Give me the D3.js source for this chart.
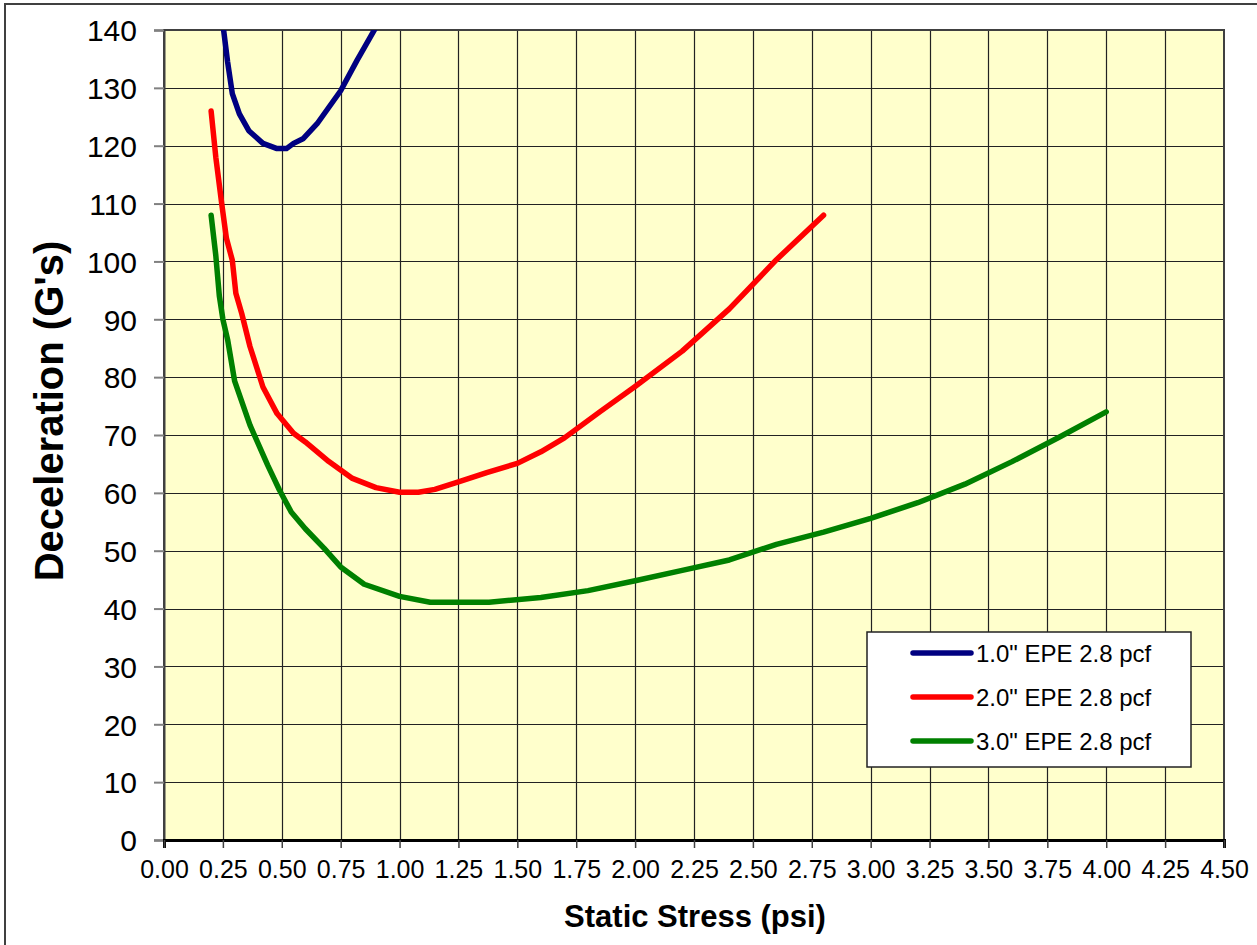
<!DOCTYPE html>
<html>
<head>
<meta charset="utf-8">
<script src="https://cdn.jsdelivr.net/npm/d3@7/dist/d3.min.js"></script>
<style>
  html, body { margin: 0; padding: 0; background: #ffffff; }
  svg { display: block; font-family: "Liberation Sans", Arial, sans-serif; }
</style>
</head>
<body>
<svg id="chart" width="1257" height="945"></svg>
<script>
// ---- Data ----
const seriesNames = ['1.0" EPE 2.8 pcf', '2.0" EPE 2.8 pcf', '3.0" EPE 2.8 pcf'];
const seriesColors = ["#000080", "#FF0000", "#008000"];

const epe1X = [0.25, 0.27, 0.29, 0.32, 0.36, 0.42, 0.48, 0.52, 0.55, 0.59, 0.65, 0.75, 0.82, 0.90];
const epe1Y = [141, 134.5, 129, 125.5, 122.6, 120.4, 119.5, 119.5, 120.4, 121.2, 123.8, 129.5, 134.8, 140.5];

const epe2X = [0.20, 0.22, 0.245, 0.265, 0.29, 0.305, 0.33, 0.365, 0.42, 0.48, 0.55, 0.60, 0.70, 0.80, 0.90, 1.00, 1.08, 1.15, 1.25, 1.37, 1.50, 1.60, 1.70, 1.85, 2.00, 2.20, 2.40, 2.60, 2.80];
const epe2Y = [126, 118, 110, 104, 100.2, 94.5, 91, 85.3, 78.3, 73.7, 70.3, 68.8, 65.4, 62.5, 60.9, 60.1, 60.1, 60.6, 61.9, 63.5, 65.1, 67.1, 69.5, 74, 78.4, 84.5, 91.8, 100.3, 108];

const epe3X = [0.20, 0.22, 0.235, 0.25, 0.27, 0.30, 0.365, 0.44, 0.49, 0.54, 0.60, 0.68, 0.75, 0.85, 1.00, 1.13, 1.38, 1.60, 1.80, 2.00, 2.20, 2.40, 2.60, 2.80, 3.00, 3.20, 3.40, 3.60, 3.80, 4.00];
const epe3Y = [108, 101, 94, 90, 86.5, 79.3, 71.7, 64.8, 60.5, 56.7, 53.8, 50.4, 47.2, 44.2, 42.1, 41.1, 41.1, 41.9, 43.1, 44.8, 46.6, 48.4, 51.1, 53.2, 55.6, 58.3, 61.5, 65.4, 69.6, 74];

const xTicks = [0, 0.25, 0.5, 0.75, 1, 1.25, 1.5, 1.75, 2, 2.25, 2.5, 2.75, 3, 3.25, 3.5, 3.75, 4, 4.25, 4.5];
const yTicks = [0, 10, 20, 30, 40, 50, 60, 70, 80, 90, 100, 110, 120, 130, 140];

const xTitle = "Static Stress (psi)";
const yTitle = "Deceleration (G's)";

// ---- Layout ----
const svg = d3.select("#chart");
const L = 164, R = 1224, T = 30, B = 840;

const x = d3.scaleLinear().domain([0, 4.5]).range([L, R]);
const y = d3.scaleLinear().domain([0, 140]).range([B, T]);

// outer frame
svg.append("rect")
  .attr("x", 5).attr("y", 4).attr("width", 1262).attr("height", 960)
  .attr("fill", "#fff").attr("stroke", "#404040").attr("stroke-width", 2);

// plot background
svg.append("rect")
  .attr("x", L).attr("y", T).attr("width", R - L).attr("height", B - T)
  .attr("fill", "#FFFFCC");

// grid
svg.append("g").selectAll("line").data(xTicks.slice(1, -1)).join("line")
  .attr("x1", d => Math.round(x(d)) + 0.5).attr("x2", d => Math.round(x(d)) + 0.5)
  .attr("y1", T).attr("y2", B)
  .attr("stroke", "#222").attr("stroke-width", 1.2);
svg.append("g").selectAll("line").data(yTicks.slice(1, -1)).join("line")
  .attr("y1", d => Math.round(y(d)) + 0.5).attr("y2", d => Math.round(y(d)) + 0.5)
  .attr("x1", L).attr("x2", R)
  .attr("stroke", "#222").attr("stroke-width", 1.2);

// plot border
svg.append("rect")
  .attr("x", L).attr("y", T).attr("width", R - L).attr("height", B - T)
  .attr("fill", "none").attr("stroke", "#404040").attr("stroke-width", 2);

// axes
const yAxis = d3.axisLeft(y).tickValues(yTicks).tickSize(10).tickPadding(17).tickFormat(d3.format("d"));
const gy = svg.append("g").attr("transform", `translate(${L},0)`).call(yAxis);
gy.select(".domain").attr("stroke", "#404040").attr("stroke-width", 2);
gy.selectAll(".tick line").attr("stroke", "#808080").attr("stroke-width", 2);
gy.selectAll(".tick text").attr("font-size", 30).attr("fill", "#000")
  .attr("font-family", "'Liberation Sans', Arial, sans-serif").attr("dy", "0.36em");

const xAxis = d3.axisBottom(x).tickValues(xTicks).tickSize(8).tickPadding(12).tickFormat(d3.format(".2f"));
const gx = svg.append("g").attr("transform", `translate(0,${B})`).call(xAxis);
gx.select(".domain").attr("stroke", "#000").attr("stroke-width", 3);
gx.selectAll(".tick line").attr("stroke", "#404040").attr("stroke-width", 1.5);
gx.selectAll(".tick text").attr("font-size", 25).attr("fill", "#000")
  .attr("font-family", "'Liberation Sans', Arial, sans-serif");

// clip
svg.append("defs").append("clipPath").attr("id", "plotclip")
  .append("rect").attr("x", L).attr("y", T).attr("width", R - L).attr("height", B - T);

const seriesData = [
  epe1X.map((v, i) => [v, epe1Y[i]]),
  epe2X.map((v, i) => [v, epe2Y[i]]),
  epe3X.map((v, i) => [v, epe3Y[i]])
];

const line = d3.line().x(d => x(d[0])).y(d => y(d[1]));
svg.append("g").attr("clip-path", "url(#plotclip)")
  .selectAll("path").data(seriesData).join("path")
  .attr("d", line)
  .attr("fill", "none")
  .attr("stroke", (d, i) => seriesColors[i])
  .attr("stroke-width", 5.5)
  .attr("stroke-linejoin", "round")
  .attr("stroke-linecap", "round");

// axis titles
svg.append("text")
  .attr("x", 695).attr("y", 927)
  .attr("text-anchor", "middle")
  .attr("font-size", 31).attr("font-weight", "bold")
  .text(xTitle);

svg.append("text")
  .attr("transform", "translate(63,411) rotate(-90)")
  .attr("text-anchor", "middle")
  .attr("font-size", 40).attr("font-weight", "bold")
  .text(yTitle);

// legend
const lg = svg.append("g");
lg.append("rect")
  .attr("x", 867).attr("y", 632).attr("width", 324).attr("height", 135)
  .attr("fill", "#fff").attr("stroke", "#222").attr("stroke-width", 1.5);
const rowsY = [653, 697, 741];
seriesNames.forEach((name, i) => {
  lg.append("line")
    .attr("x1", 913).attr("x2", 971)
    .attr("y1", rowsY[i]).attr("y2", rowsY[i])
    .attr("stroke", seriesColors[i]).attr("stroke-width", 5.5)
    .attr("stroke-linecap", "round");
  lg.append("text")
    .attr("x", 976).attr("y", rowsY[i]).attr("dy", "0.36em")
    .attr("font-size", 24)
    .text(name);
});
</script>
</body>
</html>
